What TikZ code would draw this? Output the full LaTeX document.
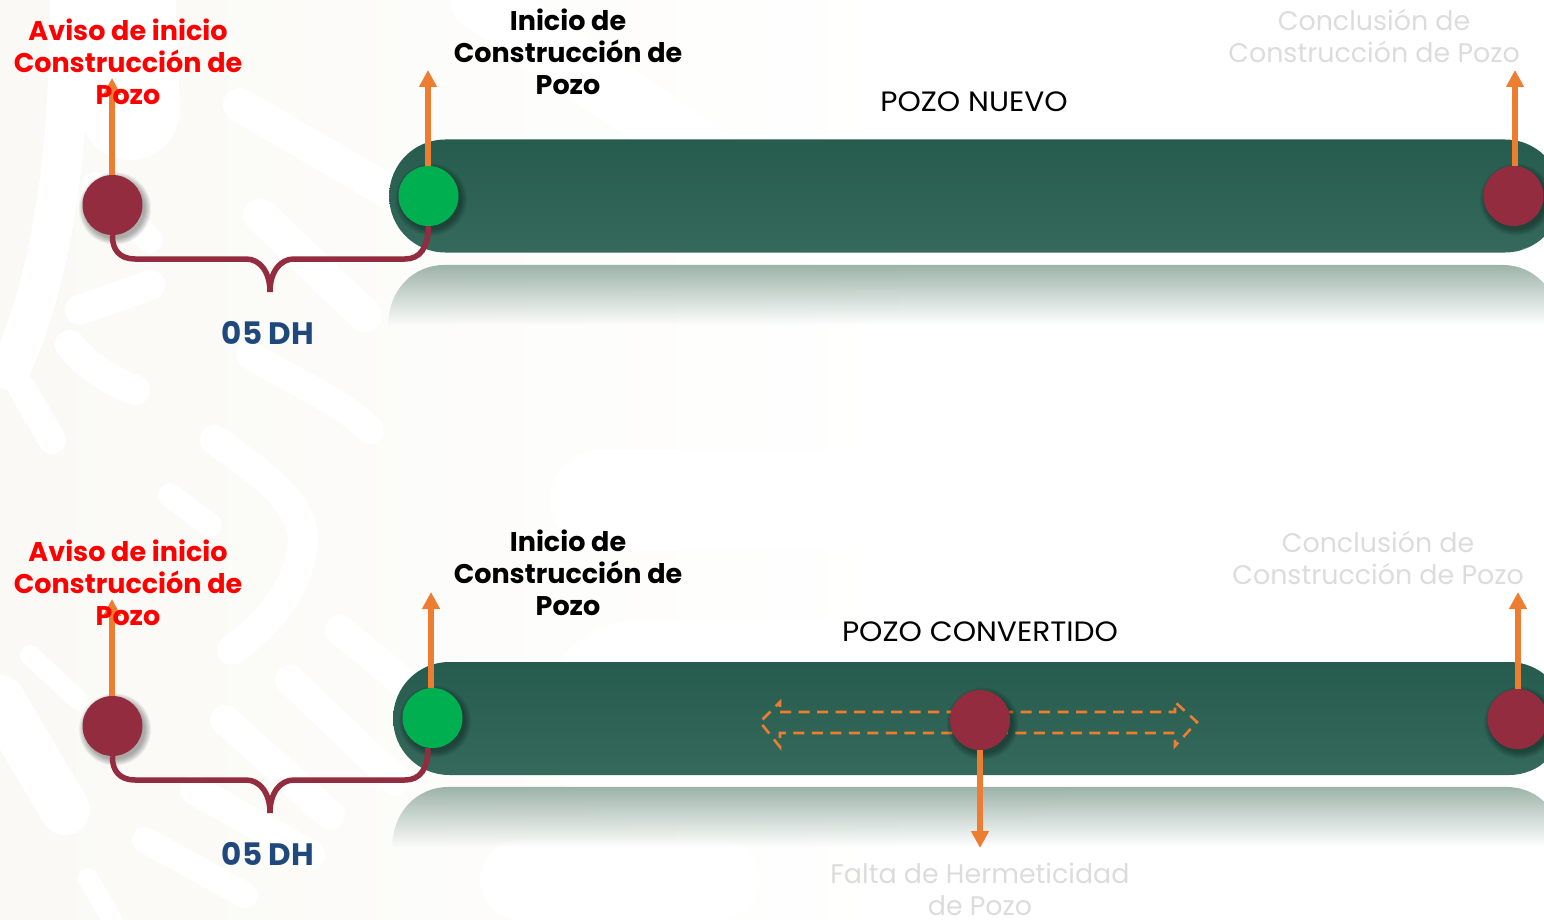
\documentclass[tikz,border=0pt]{standalone}
\usepackage{fontspec}
\setmainfont{Poppins}
\usetikzlibrary{arrows.meta,calc,fadings}
\definecolor{maroon}{HTML}{922C3E}
\definecolor{lime}{HTML}{00B050}
\definecolor{orng}{HTML}{ED7D31}
\definecolor{bartop}{HTML}{265C4E}
\definecolor{barbot}{HTML}{34695B}
\definecolor{refl}{HTML}{9DB3AA}
\definecolor{ghost}{HTML}{DCDCDC}
\definecolor{navy}{HTML}{1F497D}
\definecolor{beige}{HTML}{FAF9F5}
\tikzset{
  x=1pt,y=-1pt,
  dot/.style={circle,minimum size=60pt,inner sep=0pt,fill=#1},
  bar/.style={rectangle,rounded corners=56pt,anchor=west,minimum width=1172pt,minimum height=113pt,inner sep=0pt,top color=bartop,bottom color=barbot},
  riser/.style={orng,line width=6.5pt,-{Triangle[width=17pt,length=17pt]}},
  brace/.style={maroon,line width=5.5pt},
  boldlabel/.style={align=center,inner sep=0pt,font=\fontsize{27}{32}\selectfont\bfseries},
  ghostlabel/.style={align=center,inner sep=0pt,text=ghost,font=\fontsize{26.9}{32}\selectfont},
  titlelabel/.style={inner sep=0pt,font=\fontsize{28}{32}\selectfont\addfontfeature{FakeStretch=1.06}},
  dhlabel/.style={inner sep=0pt,text=navy,font=\fontsize{31}{32}\selectfont\bfseries},
  blob/.style={white,line cap=round,line join=round},
}
\newcommand{\softshadow}[2]{%
  \foreach \r in {36,35,34,33,32,31,30}{\fill[black,opacity=.05] (#1+2.5,#2+3.5) circle[radius=\r pt];}}
\newcommand{\reflection}[3]{%
  \fill[refl,path fading=south] (#1,#2+60) .. controls (#1,#2+25) and (#1+25,#2) .. (#1+56,#2) -- (#3-56,#2) .. controls (#3-25,#2) and (#3,#2+25) .. (#3,#2+60) -- cycle;}
\begin{document}
\begin{tikzpicture}
\useasboundingbox (0,0) rectangle (1544,920);
\clip (0,0) rectangle (1544,920);
% background watermark
\fill[left color=beige,right color=white] (0,0) rectangle (900,920);
\begin{scope}[blob]
 \draw[line width=100pt] (125,-20) -- (130,110);
 \draw[line width=40pt] (70,-10) .. controls (70,120) and (60,260) .. (10,370);
 \draw[line width=26pt] (95,185) -- (150,240);
 \draw[line width=34pt] (240,105) -- (420,210);
 \draw[line width=34pt] (260,215) -- (365,315);
 \draw[line width=30pt] (80,310) -- (150,285);
 \draw[line width=30pt] (70,345) .. controls (90,370) and (120,385) .. (135,390);
 \draw[line width=28pt] (250,355) .. controls (290,380) and (340,400) .. (370,430);
 \draw[line width=28pt] (22,388) -- (52,440);
 \draw[line width=30pt] (215,440) .. controls (270,480) and (315,510) .. (300,560) .. controls (290,600) and (260,630) .. (232,650);
 \draw[line width=24pt] (170,495) -- (210,525);
 \draw[line width=20pt] (30,655) -- (78,700);
 \draw[line width=30pt] (225,720) -- (330,815);
 \draw[line width=30pt] (290,680) -- (395,780);
 \draw[line width=30pt] (340,630) -- (430,705);
 \draw[line width=30pt] (195,790) -- (310,855);
 \draw[line width=26pt] (145,840) -- (245,895);
 \draw[line width=20pt] (88,878) -- (112,920);
 \draw[line width=50pt] (0,700) -- (65,810);
 \draw[line width=100pt] (600,500) -- (1000,500);
 \draw[line width=60pt] (480,0) -- (860,260);
 \draw[line width=200pt] (640,720) -- (1000,720);
 \draw[line width=80pt] (520,880) -- (720,880);
\end{scope}
% bars and reflections
\reflection{389}{265}{1561}
\reflection{393}{787}{1565}
\node[bar] (barA) at (389,196) {};
\node[bar] (barB) at (393,718.5) {};
\draw[white,opacity=.25,line width=2pt] (1522,250) .. controls (1532,248) and (1540,243) .. (1544,238);
\draw[white,opacity=.25,line width=2pt] (1526,773) .. controls (1536,771) and (1541,767) .. (1544,763);
% dashed hollow arrow
\draw[orng,line width=2.6pt,dash pattern=on 11pt off 7.5pt]
  (780,712) -- (1175,712) -- (1175,702) -- (1197,722) -- (1175,746) -- (1175,733) -- (780,733) -- (780,747) -- (760,722) -- (780,702) -- cycle;
% shadows
\softshadow{112.5}{205}
\softshadow{428.5}{196}
\softshadow{1513.5}{196}
\softshadow{112.5}{726}
\softshadow{432.5}{718}
\softshadow{1517.5}{719}
\softshadow{980}{720}
% circles
\node[dot=maroon] (avisoA) at (112.5,205) {};
\node[dot=lime] (inicioA) at (428.5,196) {};
\node[dot=maroon] (finA) at (1513.5,196) {};
\node[dot=maroon] (avisoB) at (112.5,726) {};
\node[dot=lime] (inicioB) at (432.5,718) {};
\node[dot=maroon] (finB) at (1517.5,719) {};
\node[dot=maroon] (falta) at (980,720) {};
% arrow ends
\coordinate (tipA1) at (112,78);
\coordinate (tipA2) at (428,70);
\coordinate (tipA3) at (1515,70);
\coordinate (tipB1) at (112,599);
\coordinate (tipB2) at (431,592);
\coordinate (tipB3) at (1518,592);
\coordinate (tipB4) at (980,848);
\draw[riser] (avisoA.north -| tipA1) -- (tipA1);
\draw[riser] (inicioA.north -| tipA2) -- (tipA2);
\draw[riser] (finA.north -| tipA3) -- (tipA3);
\draw[riser] (avisoB.north -| tipB1) -- (tipB1);
\draw[riser] (inicioB.north -| tipB2) -- (tipB2);
\draw[riser] (finB.north -| tipB3) -- (tipB3);
\draw[riser] (falta.south) -- (tipB4);
% braces
\coordinate (midA) at (270,292);
\coordinate (midB) at (270,813);
\draw[brace] (avisoA.south) .. controls (112,250) and (120,259) .. (135,259) -- (246,259)
   .. controls (260,259) and (270,272) .. (midA) .. controls (270,272) and (280,259) .. (294,259)
   -- (405,259) .. controls (420,259) and (428,248) .. (inicioA.south);
\draw[brace] (avisoB.south) .. controls (112,771) and (120,780) .. (135,780) -- (246,780)
   .. controls (260,780) and (270,793) .. (midB) .. controls (270,793) and (280,780) .. (294,780)
   -- (405,780) .. controls (420,780) and (428,769) .. (inicioB.south -| 428,748);
% labels
\node[boldlabel,text=red] (tA1) at (128,62) {Aviso de inicio\\Construcción de\\Pozo};
\node[boldlabel] (tA2) at (568,52) {Inicio de\\Construcción de\\Pozo};
\node[ghostlabel] (tA3) at (1374,36) {Conclusión de\\Construcción de Pozo};
\node[titlelabel] (tA4) at (974,102) {POZO NUEVO};
\node[dhlabel] (dhA) at (268,333) {05 DH};
\node[boldlabel,text=red] (tB1) at (128,583) {Aviso de inicio\\Construcción de\\Pozo};
\node[boldlabel] (tB2) at (568,573) {Inicio de\\Construcción de\\Pozo};
\node[ghostlabel] (tB3) at (1378,558) {Conclusión de\\Construcción de Pozo};
\node[titlelabel] (tB4) at (980,632) {POZO CONVERTIDO};
\node[dhlabel] (dhB) at (268,854) {05 DH};
\node[ghostlabel] (tB5) at (980,889) {Falta de Hermeticidad\\de Pozo};
\end{tikzpicture}
\end{document}
